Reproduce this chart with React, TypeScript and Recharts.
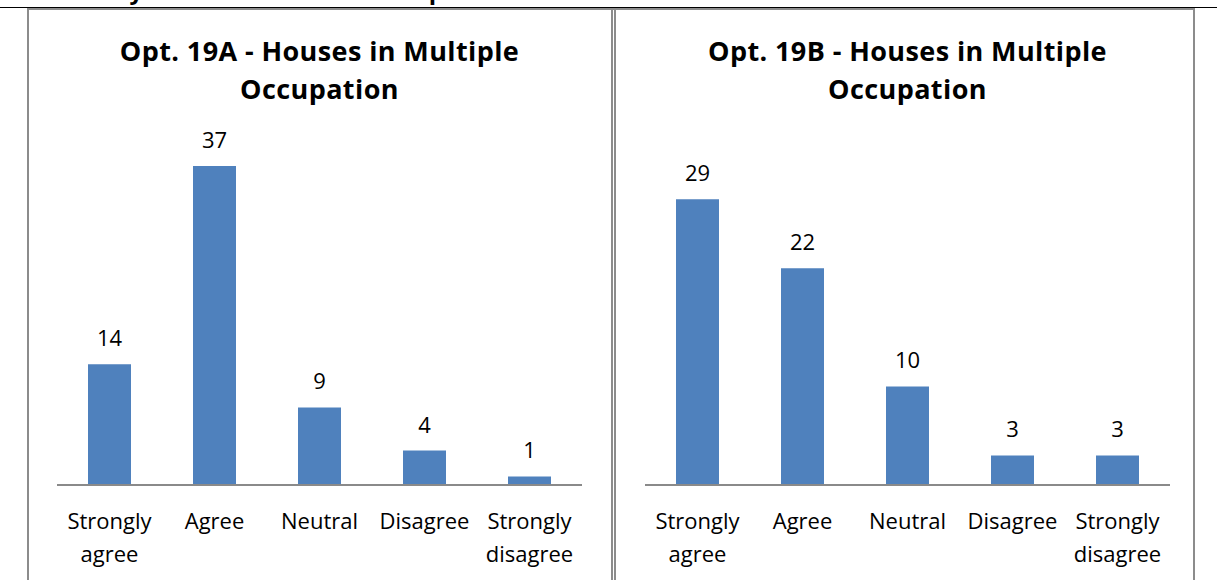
import { BarChart, Bar, XAxis, YAxis, LabelList } from "recharts";

const categories = ["Strongly agree", "Agree", "Neutral", "Disagree", "Strongly disagree"];
const valuesA = [14, 37, 9, 4, 1];
const valuesB = [29, 22, 10, 3, 3];
const titleA = ["Opt. 19A - Houses in Multiple", "Occupation"];
const titleB = ["Opt. 19B - Houses in Multiple", "Occupation"];

const FONT = "'Open Sans', Lato, sans-serif";
const BAR = "#4F81BD";
const BORDER = "#8c8c8c";

function WrapTick(props: any) {
  const { x, y, payload } = props;
  const words = String(payload.value).split(" ");
  return (
    <text x={x} y={y} textAnchor="middle" fill="#000" fontSize={22} fontFamily={FONT}>
      {words.map((w: string, i: number) => (
        <tspan key={i} x={x} dy={i === 0 ? 36 : 33}>
          {w}
        </tspan>
      ))}
    </text>
  );
}

function Panel({ left, title, values, max }: { left: number; title: string[]; values: number[]; max: number }) {
  const data = categories.map((c, i) => ({ name: c, value: values[i] }));
  return (
    <div style={{ position: "absolute", left, top: 0, width: 583, height: 580 }}>
      <div
        style={{
          position: "absolute",
          top: 32,
          left: 0,
          width: 583,
          textAlign: "center",
          fontFamily: FONT,
          fontWeight: 700,
          fontSize: 27,
          letterSpacing: 0.4,
          lineHeight: "38px",
          color: "#000",
        }}
      >
        {title.map((t, i) => (
          <div key={i}>{t}</div>
        ))}
      </div>
      <div style={{ position: "absolute", left: 0, top: 0 }}>
        <BarChart width={583} height={580} data={data} margin={{ top: 140, right: 29, bottom: 65, left: 29 }} barCategoryGap={31}>
          <XAxis
            dataKey="name"
            axisLine={{ stroke: "#8a8a8a", strokeWidth: 2 }}
            tickLine={false}
            interval={0}
            tick={<WrapTick />}
          />
          <YAxis hide domain={[0, max]} />
          <Bar dataKey="value" fill={BAR} isAnimationActive={false}>
            <LabelList dataKey="value" position="top" offset={18} fill="#000" fontSize={22} fontFamily={FONT} />
          </Bar>
        </BarChart>
      </div>
    </div>
  );
}

export default function App() {
  return (
    <div style={{ position: "absolute", left: 0, top: 0, width: 1217, height: 580, background: "#fff", overflow: "hidden" }}>
      <div style={{ position: "absolute", left: 0, top: 0, width: 1217, height: 7, overflow: "hidden" }}>
        <div
          style={{
            position: "absolute",
            left: 28,
            top: -22,
            whiteSpace: "nowrap",
            fontFamily: FONT,
            fontWeight: 700,
            fontSize: 24,
            lineHeight: "24px",
          }}
        >
          Summary of the Consultation Responses
        </div>
      </div>
      <div style={{ position: "absolute", left: 0, top: 7, width: 1217, height: 1, background: "#000" }} />
      <div style={{ position: "absolute", left: 27, top: 8, width: 1168, height: 2, background: BORDER }} />
      <div style={{ position: "absolute", left: 27, top: 8, width: 2, height: 572, background: BORDER }} />
      <div style={{ position: "absolute", left: 611, top: 8, width: 2, height: 572, background: BORDER }} />
      <div style={{ position: "absolute", left: 614, top: 8, width: 2, height: 572, background: BORDER }} />
      <div style={{ position: "absolute", left: 1193, top: 8, width: 2, height: 572, background: BORDER }} />
      <Panel left={28} title={titleA} values={valuesA} max={40} />
      <Panel left={616} title={titleB} values={valuesB} max={35} />
    </div>
  );
}
